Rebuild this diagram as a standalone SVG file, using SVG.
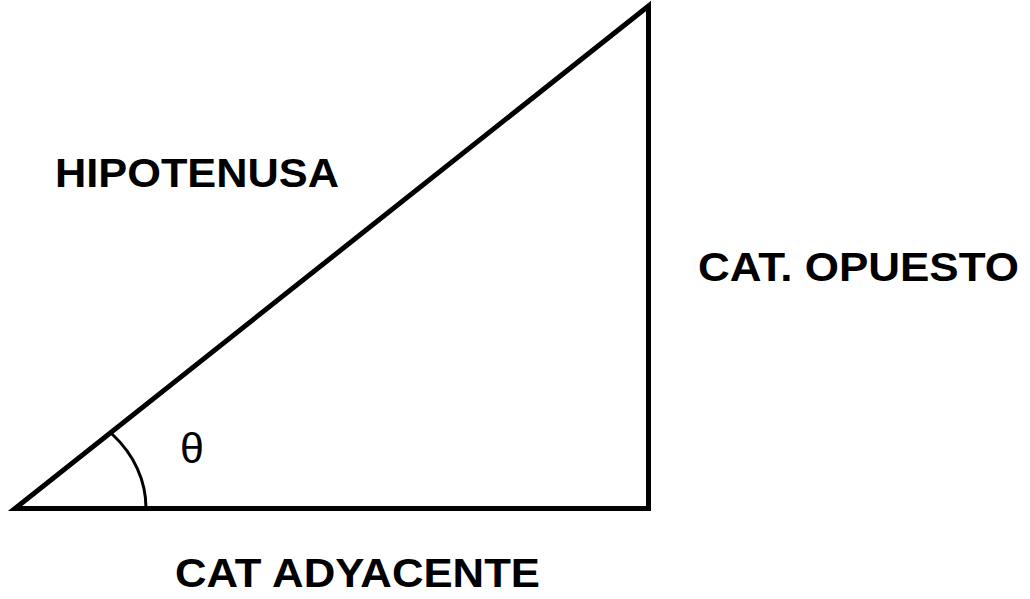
<svg xmlns="http://www.w3.org/2000/svg" width="1030" height="599" viewBox="0 0 1030 599">
<style>
.lbl{font-family:"Liberation Sans",Arial,sans-serif;font-weight:bold;font-size:41px;fill:#000}
.sym{font-family:"Liberation Sans",Arial,sans-serif;font-size:43px;fill:#000}
</style>
<rect width="1030" height="599" fill="#fff"/>
<g id="triangle">
<path d="M15 508.5 L648.5 508.5 L648.5 6 Z" fill="none" stroke="#000" stroke-width="5" stroke-linejoin="miter"/>
</g>
<g id="angle">
<path d="M112 434 A131 110 0 0 1 146 508.5" fill="none" stroke="#000" stroke-width="3"/>
<text class="sym" x="180" y="463">θ</text>
</g>
<g id="labels">
<text class="lbl" x="55" y="187" textLength="284" lengthAdjust="spacingAndGlyphs">HIPOTENUSA</text>
<text class="lbl" x="698" y="281" textLength="321" lengthAdjust="spacingAndGlyphs">CAT. OPUESTO</text>
<text class="lbl" x="175" y="587" textLength="365" lengthAdjust="spacingAndGlyphs">CAT ADYACENTE</text>
</g>
</svg>
